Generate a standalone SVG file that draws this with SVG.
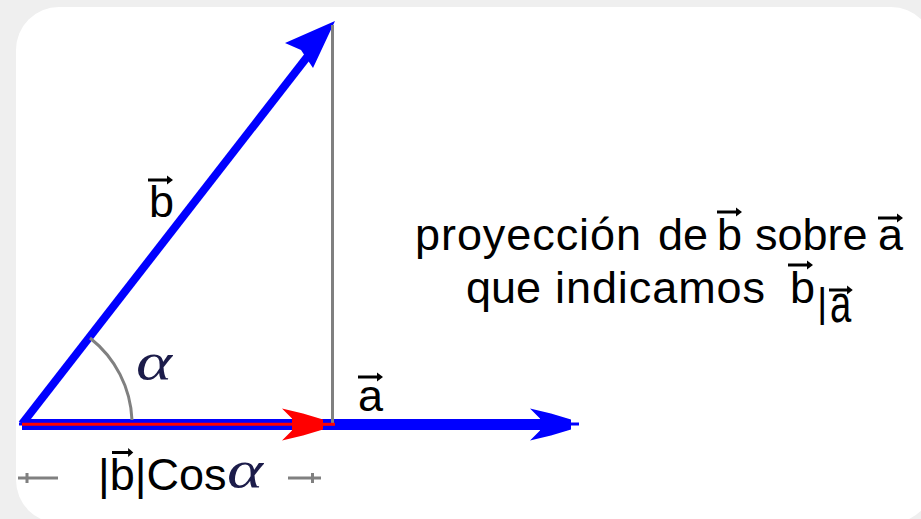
<svg xmlns="http://www.w3.org/2000/svg" xmlns:xlink="http://www.w3.org/1999/xlink" width="921" height="519" viewBox="0 0 921 519">
  <style>
    .t { font-family: "Liberation Sans", Arial, sans-serif; font-size: 45px; fill: #000; }
    .greek { font-family: "Liberation Serif", "Times New Roman", serif; font-style: italic; font-size: 52px; fill: #1c1c4a; }
    .gray { stroke: #808080; stroke-width: 3; fill: none; }
    .vec { stroke: #000; stroke-width: 3; fill: none; }
  </style>
  <defs>
    <path id="head" d="M0,-5 L-20,-11 L-41,-16 L-31,-6 L-31,6 L-41,16 L-20,11 L0,5 Z"/>
    <g id="vecmark">
      <path d="M0,0 H20" stroke="#000" stroke-width="3"/>
      <path d="M25,0 L19,-4.5 L19,4.5 Z" fill="#000"/>
    </g>
  </defs>

  <rect width="921" height="519" fill="#efefef"/>
  <rect id="panel" x="16" y="7" width="918" height="516" rx="43" ry="43" fill="#ffffff"/>

  <g id="connectors">
    <!-- vector b (diagonal) -->
    <g id="vector-b">
      <line x1="22" y1="424" x2="318" y2="43" stroke="#0000ff" stroke-width="8"/>
      <path d="M335,21 L285,43 L301,50 L313,68 Z" fill="#0000ff"/>
    </g>
    <!-- vector a (horizontal) -->
    <g id="vector-a">
      <line x1="22" y1="424.5" x2="545" y2="424.5" stroke="#0000ff" stroke-width="11"/>
      <use xlink:href="#head" href="#head" transform="translate(571,424.5)" fill="#0000ff"/>
      <line x1="560" y1="424" x2="579" y2="424" stroke="#0000ff" stroke-width="3"/>
      <line x1="19" y1="424" x2="24" y2="424" stroke="#0000ff" stroke-width="3"/>
    </g>
    <!-- perpendicular drop -->
    <line id="perpendicular" class="gray" x1="332.5" y1="25" x2="332.5" y2="423"/>
    <!-- angle arc -->
    <path id="angle-arc" class="gray" d="M90,338 A110,110 0 0 1 132,420"/>
    <!-- projection (red) -->
    <g id="projection">
      <line x1="22" y1="424.3" x2="300" y2="424.3" stroke="#ff0000" stroke-width="3"/>
      <use xlink:href="#head" href="#head" transform="translate(323,424.5)" fill="#ff0000"/>
      <line x1="318" y1="424.3" x2="335" y2="424.3" stroke="#ff0000" stroke-width="3"/>
    </g>
    <!-- dimension ticks -->
    <g id="dimension">
      <path class="gray" d="M18,478 H58 M27,473 V483"/>
      <path class="gray" d="M288,478 H321 M312.5,473 V483"/>
    </g>
  </g>

  <g id="label-b">
    <text class="t" x="149" y="217">b</text>
    <use xlink:href="#vecmark" href="#vecmark" transform="translate(148,180)"/>
  </g>

  <g id="label-a">
    <text class="t" x="358" y="411">a</text>
    <use xlink:href="#vecmark" href="#vecmark" transform="translate(358,377)"/>
  </g>

  <g id="label-alpha">
    <text class="greek" x="136" y="379" textLength="36" lengthAdjust="spacingAndGlyphs">α</text>
  </g>

  <g id="label-bcos">
    <text class="t" x="98" y="490">|b|Cos</text>
    <use xlink:href="#vecmark" href="#vecmark" transform="translate(112,452.5) scale(0.85,1)"/>
    <text class="greek" x="227" y="487" textLength="36" lengthAdjust="spacingAndGlyphs">α</text>
  </g>

  <g id="label-projection">
    <text class="t" x="415" y="250" textLength="226" lengthAdjust="spacing">proyección</text>
    <text class="t" x="658" y="250">de</text>
    <text class="t" x="717" y="250">b</text>
    <use xlink:href="#vecmark" href="#vecmark" transform="translate(717,212)"/>
    <text class="t" x="755" y="250">sobre</text>
    <text class="t" x="878" y="250">a</text>
    <use xlink:href="#vecmark" href="#vecmark" transform="translate(878,218)"/>

    <text class="t" x="466" y="303">que</text>
    <text class="t" x="555" y="303" textLength="210" lengthAdjust="spacing">indicamos</text>
    <text class="t" x="790" y="303">b</text>
    <use xlink:href="#vecmark" href="#vecmark" transform="translate(788,265)"/>
    <text class="t" x="817" y="317" style="font-size:40px">|</text>
    <text class="t" transform="translate(830,322) scale(0.85,1.2)">a</text>
    <use xlink:href="#vecmark" href="#vecmark" transform="translate(829,290) scale(0.95,1)"/>
  </g>
</svg>
